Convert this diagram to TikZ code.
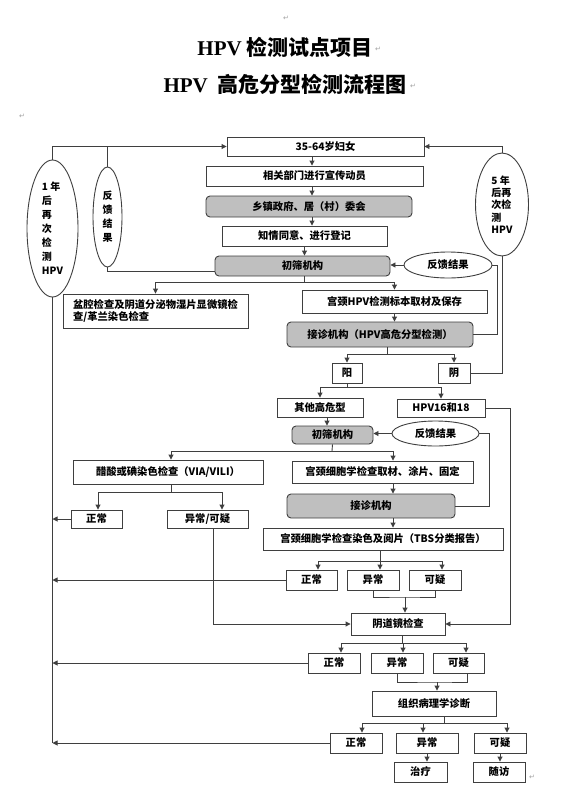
\documentclass[tikz,border=0pt]{standalone}
\usepackage{fontspec}
\setmainfont{Noto Sans CJK SC}
\newfontfamily\latserif{Liberation Serif}
\newfontfamily\pmfont{DejaVu Sans}
\usetikzlibrary{positioning, shapes.geometric, arrows.meta, calc}
\definecolor{lngray}{HTML}{3F3F3F}
\definecolor{boxgray}{HTML}{BFBFBF}
\definecolor{markgray}{HTML}{A0A0A0}

\begin{document}
\begin{tikzpicture}[x=1pt, y=-1pt, >={Triangle[length=5pt,width=5pt]},
    b/.style={draw=lngray, fill=white, line width=0.9pt, font=\fontsize{10.3}{12}\selectfont\bfseries, inner sep=0pt, align=center},
    g/.style={b, fill=boxgray, rounded corners=4pt},
    e/.style={b, ellipse},
    ln/.style={draw=lngray, line width=0.9pt},
    pm/.style={font=\pmfont\fontsize{7}{7}\selectfont, text=markgray, inner sep=0pt}]
  \useasboundingbox (0,0) rectangle (571,792);

  % title
  \node[font=\fontsize{21}{21}\selectfont\bfseries] (t1) at (285,47) {{\latserif HPV} 检测试点项目};
  \node[font=\fontsize{21}{21}\selectfont\bfseries] (t2) at (285,84) {{\latserif HPV}\ \ 高危分型检测流程图};
  \node[pm] (pm1) at (286,18) {↵};
  \node[pm] (pm2) at (378,49) {↵};
  \node[pm] (pm3) at (413,86) {↵};
  \node[pm] (pm4) at (22,116) {↵};
  \node[pm] (pm5) at (532,777) {↵};

  % upper part
  \node[b, minimum width=197pt, minimum height=19pt] (top) at (325.5,146.5) {35-64岁妇女};
  \node[b, minimum width=217pt, minimum height=20pt] (xc) at (314.5,176) {相关部门进行宣传动员};
  \node[g, minimum width=206pt, minimum height=21pt] (xz) at (309,206.5) {乡镇政府、居（村）委会};
  \node[b, minimum width=165pt, minimum height=20pt] (zq) at (304.5,236) {知情同意、进行登记};
  \node[g, minimum width=175pt, minimum height=20pt] (cs1) at (302.5,266) {初筛机构};
  \node[b, minimum width=185pt, minimum height=34pt, align=left] (pq) at (155.5,311) {盆腔检查及阴道分泌物湿片显微镜检\\查/革兰染色检查};
  \node[b, minimum width=185pt, minimum height=23pt] (qy) at (394.5,301.5) {宫颈HPV检测标本取材及保存};
  \node[g, minimum width=186pt, minimum height=25pt] (jz1) at (380,334.5) {接诊机构（HPV高危分型检测）};
  \node[b, minimum width=30pt, minimum height=20pt] (yang) at (347,373) {阳};
  \node[b, minimum width=32pt, minimum height=20pt] (yin) at (454,373) {阴};
  \node[b, minimum width=86pt, minimum height=19pt] (qt) at (320,407.5) {其他高危型};
  \node[b, minimum width=88pt, minimum height=18pt] (h16) at (441,408) {HPV16和18};

  % ellipses
  \node[e, minimum width=51pt, minimum height=137pt, align=left, font=\fontsize{10}{14}\selectfont\bfseries] (e1) at (52.5,228.5) {1 年\\后\\再\\次\\检\\测\\HPV};
  \node[e, minimum width=29pt, minimum height=100pt, font=\fontsize{10}{14}\selectfont\bfseries] (efk1) at (107.5,217) {反\\馈\\结\\果};
  \node[e, minimum width=88pt, minimum height=26pt] (fk1) at (448,265) {反馈结果};
  \node[e, minimum width=53pt, minimum height=103pt, align=left, font=\fontsize{10}{12.3}\selectfont\bfseries] (e5) at (502,204.5) {5 年\\后再\\次检\\测\\HPV};
  \node[e, minimum width=87pt, minimum height=25pt] (fk2) at (435.5,433.5) {反馈结果};

  % middle part
  \node[g, minimum width=81pt, minimum height=18pt] (cs2) at (332.5,435) {初筛机构};
  \node[b, minimum width=190pt, minimum height=24pt] (cs) at (168,472) {醋酸或碘染色检查（VIA/VILI）};
  \node[b, minimum width=181pt, minimum height=22pt] (xb) at (382.5,472) {宫颈细胞学检查取材、涂片、固定};
  \node[g, minimum width=168pt, minimum height=24pt] (jz2) at (371,506) {接诊机构};
  \node[b, minimum width=240pt, minimum height=22pt] (tbs) at (383,539) {宫颈细胞学检查染色及阅片（TBS分类报告）};
  \node[b, minimum width=51pt, minimum height=18pt] (zc0) at (96.5,519) {正常};
  \node[b, minimum width=81pt, minimum height=18pt] (yc0) at (207.5,519) {异常/可疑};

  % lower part
  \node[b, minimum width=51pt, minimum height=20pt] (zc1) at (311.5,580) {正常};
  \node[b, minimum width=52pt, minimum height=20pt] (yc1) at (373,580) {异常};
  \node[b, minimum width=52pt, minimum height=20pt] (ky1) at (435,580) {可疑};
  \node[b, minimum width=94pt, minimum height=22pt] (ydj) at (398,624) {阴道镜检查};
  \node[b, minimum width=52pt, minimum height=20pt] (zc2) at (334,663) {正常};
  \node[b, minimum width=52pt, minimum height=20pt] (yc2) at (397,663) {异常};
  \node[b, minimum width=51pt, minimum height=20pt] (ky2) at (458.5,663) {可疑};
  \node[b, minimum width=124pt, minimum height=25pt] (zz) at (434,703.5) {组织病理学诊断};
  \node[b, minimum width=52pt, minimum height=20pt] (zc3) at (356,743) {正常};
  \node[b, minimum width=62pt, minimum height=20pt] (yc3) at (427,743) {异常};
  \node[b, minimum width=52pt, minimum height=20pt] (ky3) at (500,743) {可疑};
  \node[b, minimum width=53pt, minimum height=20pt] (zl) at (420.5,772) {治疗};
  \node[b, minimum width=52pt, minimum height=20pt] (sf) at (499,772) {随访};

  % columns and forks
  \coordinate (c1) at (312,0);
  \coordinate (c2) at (327,0);
  \coordinate (c3) at (393,0);
  \coordinate (c4) at (222,0);
  \coordinate (c5) at (213,0);
  \coordinate (r1) at (510,0);
  \coordinate (r2) at (489,0);
  \coordinate (r3) at (497,0);
  \coordinate (f1) at (304,282);
  \coordinate (f2) at (387,354);
  \coordinate (f3) at (347,387);
  \coordinate (f4) at (332,451);
  \coordinate (f5) at (171,492);
  \coordinate (f6) at (380,561);
  \coordinate (j1) at (405,597);
  \coordinate (f7) at (402,643);
  \coordinate (j2) at (437,682);
  \coordinate (f8) at (444,723);

  % main flow
  \draw[ln,->] (top.south -| c1) -- (xc.north -| c1);
  \draw[ln,->] (xc.south -| c1) -- (xz.north -| c1);
  \draw[ln,->] (xz.south -| c1) -- (zq.north -| c1);
  \draw[ln,->] (zq.south) -- (cs1.north -| zq.south);
  \draw[ln] (cs1.south -| f1) -- (f1);
  \draw[ln,->] (f1) -| (pq.north);
  \draw[ln,->] (f1) -| (qy.north);
  \draw[ln,->] (qy.south) -- (jz1.north -| qy.south);
  \draw[ln] (jz1.south -| f2) -- (f2);
  \draw[ln,->] (f2) -| (yang.north);
  \draw[ln,->] (f2) -| (yin.north);
  \draw[ln] (yang.south) -- (f3);
  \draw[ln,->] (f3) -| (qt.north);
  \draw[ln,->] (f3) -| (h16.north);
  \draw[ln,->] (qt.south -| c2) -- (cs2.north -| c2);
  \draw[ln] (cs2.south) -- (f4);
  \draw[ln,->] (f4) -| (cs.north -| f5);
  \draw[ln,->] (f4) -| (xb.north -| c3);
  \draw[ln,->] (xb.south -| c3) -- (jz2.north -| c3);
  \draw[ln,->] (jz2.south -| c3) -- (tbs.north -| c3);
  \draw[ln] (cs.south -| f5) -- (f5);
  \draw[ln,->] (f5) -| ([xshift=1.5pt]zc0.north);
  \draw[ln,->] (f5) -| (yc0.north -| c4);
  \draw[ln,->] (yc0.south -| c5) |- (ydj.west);
  \draw[ln,->] (h16.east) -| (ydj.east -| r1) -- (ydj.east);
  \draw[ln] (tbs.south -| f6) -- (f6);
  \draw[ln,->] (f6) -| ([xshift=6.5pt]zc1.north);
  \draw[ln,->] (f6) -| ([xshift=7pt]yc1.north);
  \draw[ln,->] (f6) -| ([xshift=7pt]ky1.north);
  \draw[ln] (yc1.south) |- (j1) -| (ky1.south);
  \draw[ln,->] (j1) -- (ydj.north -| j1);
  \draw[ln] (ydj.south -| f7) -- (f7);
  \draw[ln,->] (f7) -| ([xshift=7pt]zc2.north);
  \draw[ln,->] (f7) -| ([xshift=6pt]yc2.north);
  \draw[ln,->] (f7) -| ([xshift=7.5pt]ky2.north);
  \draw[ln] (yc2.south) |- (j2) -| ([xshift=9pt]ky2.south);
  \draw[ln,->] (j2) -- (zz.north -| j2);
  \draw[ln] (zz.south -| f8) -- (f8);
  \draw[ln,->] (f8) -| ([xshift=6pt]zc3.north);
  \draw[ln,->] (f8) -| ([xshift=-4pt]yc3.north);
  \draw[ln,->] (f8) -| ([xshift=7pt]ky3.north);
  \draw[ln,->] (yc3.south) -- (zl.north -| yc3.south);
  \draw[ln,->] (ky3.south) -- (sf.north -| ky3.south);

  % feedback and return loops
  \draw[ln,->] (fk1.west) -- (fk1.west -| cs1.east);
  \draw[ln] (jz1.east) -| (fk1.east -| r3) -- (fk1.east);
  \draw[ln,->] (fk2.west) -- (fk2.west -| cs2.east);
  \draw[ln] (jz2.east) -| (fk2.east -| r2) -- (fk2.east);
  \draw[ln,->] (e5.north) |- (top.east);
  \draw[ln] (yin.east) -| (e5.south);
  \draw[ln,->] (e1.north) |- (top.west);
  \draw[ln] (efk1.north) -- (efk1.north |- top.west);
  \draw[ln] ([yshift=-5pt]cs1.west) -| (efk1.south);
  \draw[ln] (e1.south) -- (e1.south |- zc3.west);
  \draw[ln,->] (zc0.west) -- (zc0.west -| e1.south);
  \draw[ln,->] (zc1.west) -- (zc1.west -| e1.south);
  \draw[ln,->] (zc2.west) -- (zc2.west -| e1.south);
  \draw[ln,->] (zc3.west) -- (zc3.west -| e1.south);
\end{tikzpicture}
\end{document}
